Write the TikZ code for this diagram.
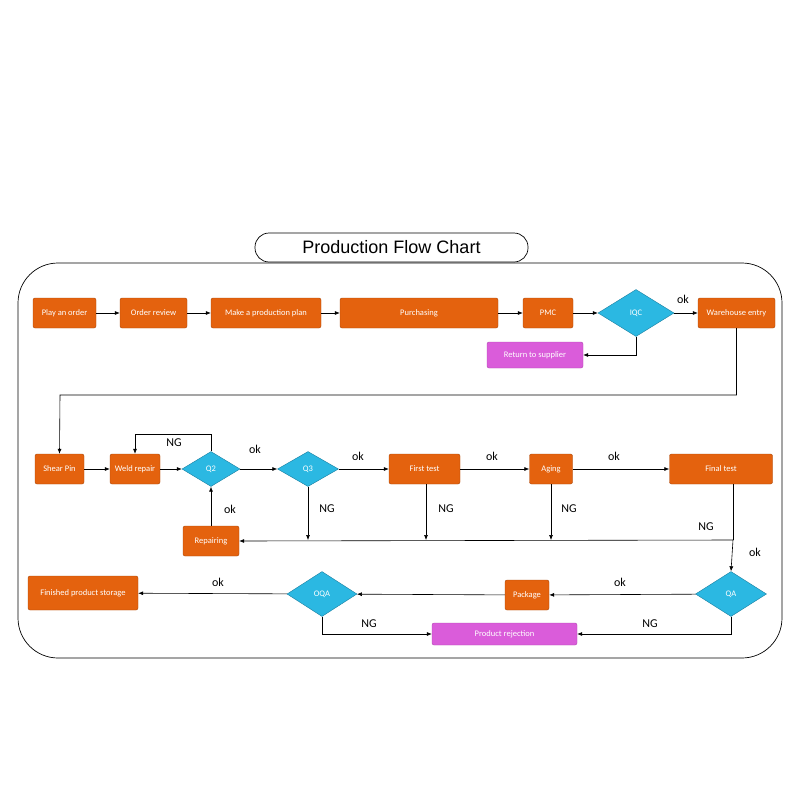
\documentclass[tikz,border=0pt]{standalone}
\usepackage{fontspec}
\setmainfont{Carlito}
\usetikzlibrary{shapes.geometric,arrows.meta}
\definecolor{org}{HTML}{E4620E}
\definecolor{orgd}{HTML}{A8460A}
\definecolor{cy}{HTML}{2BB8E2}
\definecolor{cyd}{HTML}{1A7FA0}
\definecolor{mg}{HTML}{DA5CDA}
\begin{document}
\begin{tikzpicture}[x=1pt,y=-1pt,
 box/.style={draw=orgd,fill=org,rounded corners=2pt,text=white,font=\fontsize{8.5}{9}\selectfont,minimum height=30pt,inner sep=1pt},
 dia/.style={diamond,draw=cyd,fill=cy,text=white,font=\fontsize{8.5}{9}\selectfont,inner sep=0pt},
 rej/.style={draw=mg!80!black,fill=mg,rounded corners=2pt,text=white,font=\fontsize{8.5}{9}\selectfont,inner sep=1pt},
 lab/.style={font=\fontsize{12}{14}\selectfont},
 ar/.style={-{Latex[length=5pt,width=4pt]},line width=0.6pt},
 ln/.style={line width=0.6pt}]
\useasboundingbox (0,0) rectangle (800,800);
\draw[line width=0.7pt,rounded corners=40pt] (18,263) rectangle (782,658);
\node[draw,line width=0.7pt,fill=white,rounded corners=14pt,minimum width=273pt,minimum height=29pt] (title) at (391.5,247.5) {\fontspec{Liberation Sans}\fontsize{18}{20}\selectfont Production Flow Chart};
% row 1
\node[box,minimum width=63pt] (a1) at (64.5,313) {Play an order};
\node[box,minimum width=67pt] (a2) at (153.5,313) {Order review};
\node[box,minimum width=110pt] (a3) at (266,313) {Make a production plan};
\node[box,minimum width=158pt] (a4) at (419,313) {Purchasing};
\node[box,minimum width=50pt] (a5) at (548,313) {PMC};
\node[dia,minimum width=76pt,minimum height=47pt] (iqc) at (636,313) {IQC};
\node[box,minimum width=77pt] (we) at (736.5,313) {Warehouse entry};
\node[rej,minimum width=96pt,minimum height=26pt] (ret) at (535,355) {Return to supplier};
\draw[ar] (a1) -- (a2); \draw[ar] (a2) -- (a3); \draw[ar] (a3) -- (a4);
\draw[ar] (a4) -- (a5); \draw[ar] (a5) -- (iqc); \draw[ar] (iqc) -- (we);
\node[lab] (l0) at (683,299) {ok};
\draw[ar] (iqc.south) |- (ret.east);
% row 2
\node[box,minimum width=49pt] (s) at (59.5,469) {Shear Pin};
\node[box,minimum width=50pt] (w) at (135,469) {Weld repair};
\node[dia,minimum width=58pt,minimum height=35pt] (q2) at (211,469) {Q2};
\node[dia,minimum width=61pt,minimum height=35pt] (q3) at (308,469) {Q3};
\node[box,minimum width=71pt] (ft) at (424.5,469) {First test};
\node[box,minimum width=43pt] (ag) at (551,469) {Aging};
\node[box,minimum width=103pt] (fin) at (721,469) {Final test};
\node[box,minimum width=56pt] (rp) at (211,541) {Repairing};
\coordinate (c1) at (60,395);
\draw[ar] (we.south) |- (c1) -- (s.north);
\draw[ar] (s) -- (w); \draw[ar] (w) -- (q2); \draw[ar] (q2) -- (q3);
\draw[ar] (q3) -- (ft); \draw[ar] (ft) -- (ag); \draw[ar] (ag) -- (fin);
\draw[ar] (q2.north) -- ++(0,-17) -| (w.north);
\draw[ar] (rp.north) -- (q2.south);
\coordinate (h1) at (733,540);
\draw[ln] (fin.south -| h1) -- (h1);
\draw[ar] (h1) -- (rp.east);
\draw[ar] (q3.south) -- (q3.south |- h1);
\draw[ar] (426,484) -- (426,540);
\draw[ar] (ag.south) -- (ag.south |- h1);
% row 3
\node[dia,minimum width=71pt,minimum height=45pt] (qa) at (731,594) {QA};
\node[box,minimum width=44pt] (pk) at (527,595) {Package};
\node[dia,minimum width=70pt,minimum height=45pt] (oqa) at (322,594) {OQA};
\node[box,minimum width=110pt,minimum height=34pt] (fps) at (83,593) {Finished product storage};
\node[rej,minimum width=145pt,minimum height=22pt] (pr) at (504.5,634) {Product rejection};
\draw[ar] (h1) -- (qa.north);
\draw[ar] (qa) -- (pk); \draw[ar] (pk) -- (oqa); \draw[ar] (oqa) -- (fps);
\draw[ar] (qa.south) |- (pr.east);
\draw[ar] (oqa.south) |- (pr.west);
% labels
\foreach \t/\x/\y [count=\i] in {NG/174/443,ok/255/449,ok/358/456,ok/492/456,ok/614/456,NG/327/509,NG/446/509,NG/569/509,ok/230/509,NG/706/527,ok/755/552,ok/218/582,ok/620/582,NG/369/624,NG/650/624}
  \node[lab] (t\i) at (\x,\y) {\t};
\end{tikzpicture}
\end{document}
